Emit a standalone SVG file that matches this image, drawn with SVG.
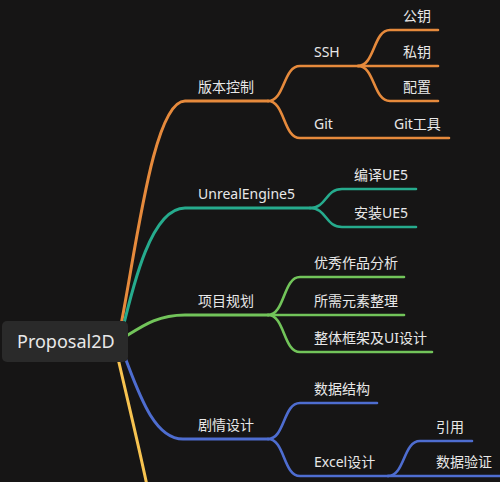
<svg xmlns="http://www.w3.org/2000/svg" width="500" height="482" viewBox="0 0 500 482">
<style>
text{font-family:"Noto Sans","Noto Sans CJK SC",sans-serif;font-size:14px;fill:#e8e8e8}
.l{fill:none;stroke-width:3;stroke-linecap:round}
.s{fill:none;stroke-width:2.6;stroke-linecap:round}
.o{stroke:#e68a3c}.t{stroke:#26ab8d}.g{stroke:#72c45a}.b{stroke:#4e6dd0}.y{stroke:#f7c350}
</style>
<rect width="500" height="482" fill="#161515"/>
<g id="connectors">
<path class="l o" d="M118 340 C135 260 152 101 185 101 L268 101"/>
<path class="s o" d="M268 101 C285 101 283 66 300 66 L358 66"/>
<path class="s o" d="M268 101 C285 101 283 138 300 138 L449 138"/>
<path class="s o" d="M358 66 C375 66 373 30 390 30 L438 30"/>
<path class="s o" d="M358 66 L438 66"/>
<path class="s o" d="M358 66 C375 66 373 101 390 101 L438 101"/>
<path class="l t" d="M120 340 C132 290 150 208 185 208 L310 208"/>
<path class="s t" d="M310 208 C327 208 325 189 342 189 L416 189"/>
<path class="s t" d="M310 208 C327 208 325 227 342 227 L416 227"/>
<path class="l g" d="M120 340 C140 328 155 315 185 315 L268 315"/>
<path class="s g" d="M268 315 C285 315 283 277 300 277 L404 277"/>
<path class="s g" d="M268 315 L404 315"/>
<path class="s g" d="M268 315 C285 315 283 352 300 352 L432 352"/>
<path class="l b" d="M120 345 C135 380 150 439 183 439 L268 439"/>
<path class="s b" d="M268 439 C285 439 283 403 300 403 L377 403"/>
<path class="s b" d="M268 439 C285 439 283 476 300 476 L388 476"/>
<path class="s b" d="M388 476 C405 476 403 441 420 441 L472 441"/>
<path class="s b" d="M388 476 L502 476"/>
<path class="l y" d="M115 345 C125 390 140 450 150 500"/>
</g>
<g id="root">
<rect x="2" y="321" width="126" height="41" rx="5" fill="#2a2a2a"/>
<text x="17" y="348" style="font-size:18px">Proposal2D</text>
</g>
<g id="n-banben"><text x="198" y="92">版本控制</text></g>
<g id="n-ssh"><text x="314" y="57">SSH</text></g>
<g id="n-git"><text x="314" y="129">Git</text></g>
<g id="n-gongyao"><text x="403" y="21">公钥</text></g>
<g id="n-siyao"><text x="403" y="57">私钥</text></g>
<g id="n-peizhi"><text x="403" y="92">配置</text></g>
<g id="n-gittool"><text x="394" y="129">Git工具</text></g>
<g id="n-ue5"><text x="198" y="199">UnrealEngine5</text></g>
<g id="n-bianyi"><text x="354" y="180">编译UE5</text></g>
<g id="n-anzhuang"><text x="354" y="218">安装UE5</text></g>
<g id="n-xiangmu"><text x="198" y="306">项目规划</text></g>
<g id="n-youxiu"><text x="314" y="268">优秀作品分析</text></g>
<g id="n-suoxu"><text x="314" y="306">所需元素整理</text></g>
<g id="n-zhengti"><text x="314" y="343">整体框架及UI设计</text></g>
<g id="n-juqing"><text x="198" y="430">剧情设计</text></g>
<g id="n-shuju"><text x="314" y="394">数据结构</text></g>
<g id="n-excel"><text x="314" y="467">Excel设计</text></g>
<g id="n-yinyong"><text x="436" y="432">引用</text></g>
<g id="n-yanzheng"><text x="436" y="467">数据验证</text></g>
</svg>
